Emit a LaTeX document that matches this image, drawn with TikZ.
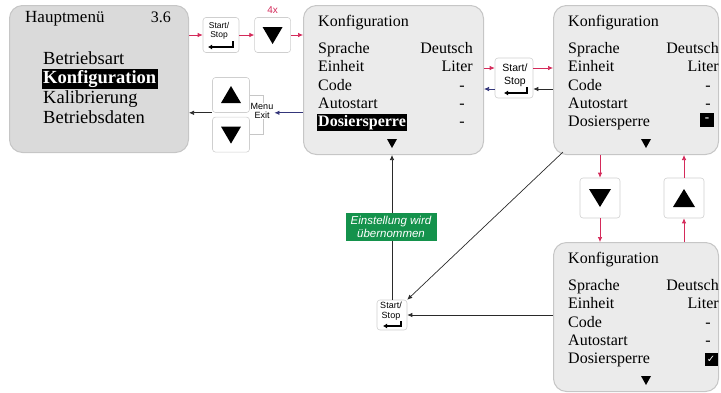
\documentclass[tikz,border=0pt]{standalone}
\usepackage{fontspec}
\setmainfont{Liberation Serif}
\setsansfont{Liberation Sans}
\newfontfamily\symfont{DejaVu Sans}
\usetikzlibrary{arrows.meta,positioning,calc}
\definecolor{screen}{HTML}{EBEBEB}
\definecolor{screenmain}{HTML}{DADADA}
\definecolor{frame}{HTML}{C6C6C6}
\definecolor{keyline}{HTML}{CFCFCF}
\definecolor{press}{HTML}{D42A5A}
\definecolor{back}{HTML}{34367A}
\definecolor{dark}{HTML}{2A2A2A}
\definecolor{ok}{HTML}{14924C}
\begin{document}
\begin{tikzpicture}[x=1pt,y=-1pt,
  node distance=15pt,
  scr/.style={draw=frame,fill=screen,line width=1pt,rounded corners=13pt,anchor=north west,minimum width=180pt,minimum height=149pt},
  key/.style={draw=keyline,fill=white,line width=0.6pt,rounded corners=3pt,minimum width=36pt,minimum height=35pt},
  keytxt/.style={font=\sffamily\fontsize{8.5}{9}\selectfont,align=center,inner sep=0pt},
  item/.style={font=\fontsize{16}{18}\selectfont,anchor=base west,inner sep=0pt},
  val/.style={item,anchor=base east},
  sel/.style={item,fill=black,text=white,font=\bfseries\fontsize{16}{18}\selectfont,inner sep=1.5pt},
  big/.style={item,font=\fontsize{18.5}{20}\selectfont},
  arr/.style={-{Latex[length=5pt,width=4.5pt]},line width=0.7pt},
  ret/.style={-{Latex[length=4pt,width=5pt]},line width=1.5pt}]
\useasboundingbox (0,0) rectangle (721,392);

% Hauptmenue
\node[scr,fill=screenmain,minimum width=179pt,minimum height=147pt] (s1) at (9,5) {};
\node[item,font=\fontsize{17}{19}\selectfont] (s1h) at (25,22) {Hauptmenü};
\node[val] (s1v) at (171,22) {3.6};
\node[big] (s1a) at (43,64) {Betriebsart};
\node[big,fill=black,text=white,font=\bfseries\fontsize{18.5}{20}\selectfont,inner sep=1.5pt] (s1b) at (41.5,83.5) {Konfiguration};
\node[big] (s1c) at (43,103) {Kalibrierung};
\node[big] (s1d) at (43,123) {Betriebsdaten};

% Konfiguration screens
\node[scr] (s2) at (303,5) {};
\node[scr,minimum width=165pt] (s3) at (553,5) {};
\node[scr,minimum width=165pt] (s4) at (553,242) {};
\foreach \s/\vx/\tx in {s2/-11/89,s3/0/93,s4/0/93}{
  \node[item] (\s h) at ([shift={(15,21)}]\s.north west) {Konfiguration};
  \foreach \lbl [count=\row] in {Sprache,Einheit,Code,Autostart}
    \node[item] (\s n\row) at ([shift={(15,30.25+18.25*\row)}]\s.north west) {\lbl};
  \node[val] (\s v1) at ([shift={(\vx,48.5)}]\s.north east) {Deutsch};
  \node[val] (\s v2) at ([shift={(\vx,66.5)}]\s.north east) {Liter};
  \node[val] (\s v3) at ([shift={(\vx-8,85)}]\s.north east) {-};
  \node[val] (\s v4) at ([shift={(\vx-8,103)}]\s.north east) {-};
  \fill ([shift={(\tx-5,134)}]\s.north west) -- ++(10,0) -- ++(-5,9) -- cycle;
}
\node[sel] (s2n5) at ([shift={(13.5,121.5)}]s2.north west) {Dosiersperre};
\node[val] (s2v5) at ([shift={(-19,121.5)}]s2.north east) {-};
\node[item] (s3n5) at ([shift={(15,121.5)}]s3.north west) {Dosiersperre};
\node[fill=black,text=white,minimum size=14pt,inner sep=0pt,font=\bfseries\fontsize{13}{13}\selectfont] (s3m) at ([shift={(-12,115)}]s3.north east) {\raisebox{-3pt}{-}};
\node[item] (s4n5) at ([shift={(15,121.5)}]s4.north west) {Dosiersperre};
\node[fill=black,text=white,minimum size=13pt,inner sep=0pt,font=\symfont\fontsize{10}{10}\selectfont] (s4m) at ([shift={(-8,117)}]s4.north east) {✓};

% Tasten oben
\node[key] (ss1) at (221,35) {};
\node[keytxt] (ss1l) at ([shift={(-2,-4)}]ss1.center) {Start/\\Stop};
\draw[ret] ([shift={(12,6)}]ss1.center) |- ([shift={(-13,12)}]ss1.center);
\node[key,right=of ss1] (dn1) {};
\fill ([shift={(-10,-8)}]dn1.center) -- ++(20,0) -- ++(-10,17) -- cycle;
\node[font=\sffamily\fontsize{10}{10}\selectfont,text=press,above=0pt of dn1] (n4x) {4x};
\draw[arr,press] (s1.east |- ss1) -- (ss1);
\draw[arr,press] (ss1) -- (dn1);
\draw[arr,press] (dn1) -- (s2.west |- dn1);

% Menu/Exit
\node[key,minimum width=37pt] (up1) at (231,95) {};
\node[key,minimum width=37pt,below=4pt of up1] (dn2) {};
\fill ([shift={(-10,8)}]up1.center) -- ++(20,0) -- ++(-10,-17) -- cycle;
\fill ([shift={(-10,-8)}]dn2.center) -- ++(20,0) -- ++(-10,17) -- cycle;
\draw[frame,line width=0.6pt] (up1.east) -- ++(13,0) |- (dn2.east);
\node[keytxt,fill=white,inner sep=1pt,font=\sffamily\fontsize{9}{8.5}\selectfont] (mex) at (262,111) {Menu\\Exit};
\draw[arr,back] (s2.west |- up1.south) -- (mex.east |- up1.south);
\draw[arr,dark] (up1.south west) -- (s1.east |- up1.south);

% Start/Stop zwischen s2 und s3
\node[key,minimum width=38pt,minimum height=40pt] (ss2) at (514,78) {};
\node[keytxt,font=\sffamily\fontsize{10.5}{13}\selectfont] (ss2l) at ([shift={(1,-3)}]ss2.center) {Start/\\Stop};
\draw[ret] ([shift={(13,9)}]ss2.center) |- ([shift={(-10,15)}]ss2.center);
\coordinate (ss2a) at ([yshift=10pt]ss2.west);
\coordinate (ss2b) at ([yshift=-11pt]ss2.west);
\draw[arr,press] (s2.east |- ss2a) -- (ss2a);
\draw[arr,press] (ss2.east |- ss2a) -- (s3.west |- ss2a);
\draw[arr,back] (ss2b) -- (s2.east |- ss2b);
\draw[arr,dark] (s3.west |- ss2b) -- (ss2.east |- ss2b);

% Auf/Ab zwischen s3 und s4
\node[key,minimum width=40pt,minimum height=40pt] (dn3) at (600,198) {};
\node[key,minimum width=40pt,minimum height=40pt] (up2) at (684,198) {};
\fill ([shift={(-11,-9)}]dn3.center) -- ++(22,0) -- ++(-11,18) -- cycle;
\fill ([shift={(-11,9)}]up2.center) -- ++(22,0) -- ++(-11,-18) -- cycle;
\draw[arr,press] (s3.south -| dn3) -- (dn3);
\draw[arr,press] (dn3) -- (s4.north -| dn3);
\draw[arr,press] (s4.north -| up2) -- (up2);
\draw[arr,press] (up2) -- (s3.south -| up2);

% Start/Stop unten
\node[key,minimum width=30pt,minimum height=30pt] (ss3) at (392,315) {};
\node[keytxt,font=\sffamily\fontsize{9}{10}\selectfont] (ss3l) at ([shift={(-1,-4)}]ss3.center) {Start/\\Stop};
\draw[ret,line width=1.3pt] ([shift={(9,6)}]ss3.center) |- ([shift={(-9,11)}]ss3.center);
\coordinate (s3c) at ([shift={(10,-3)}]s3.south west);
\draw[arr,dark] (ss3) -- (s2.south -| ss3);
\draw[arr,dark] (s3c) -- (ss3.north east);
\draw[arr,dark] (s4.west |- ss3) -- (ss3.east);
\node[fill=ok,text=white,font=\sffamily\itshape\fontsize{11.5}{12.5}\selectfont,align=center,minimum width=91pt,minimum height=28pt,inner sep=1pt] (msg) at (391,227) {Einstellung wird\\übernommen};
\end{tikzpicture}
\end{document}
